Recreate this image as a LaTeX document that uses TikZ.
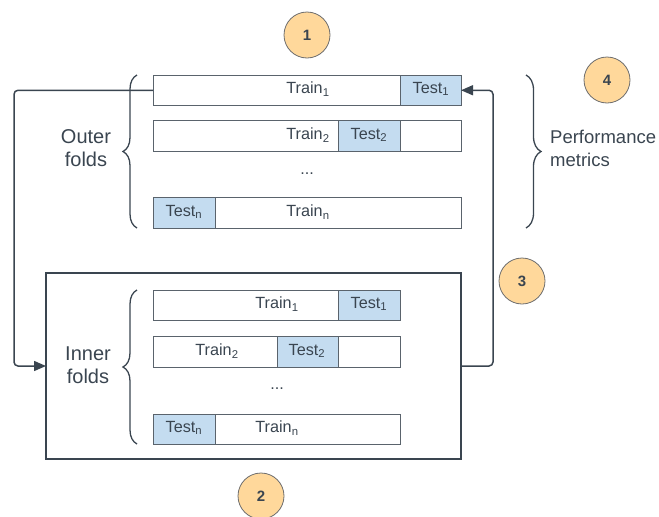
\documentclass[tikz,border=0pt]{standalone}
\usepackage{fontspec}
\setmainfont{Liberation Sans}
\usetikzlibrary{arrows.meta,decorations.pathreplacing}
\definecolor{ink}{HTML}{3A4550}
\definecolor{barline}{HTML}{5A636C}
\definecolor{testblue}{HTML}{C4DCF0}
\definecolor{badgefill}{HTML}{FFD89B}
\definecolor{badgeline}{HTML}{6E6E6E}
\begin{document}
\begin{tikzpicture}[x=1pt,y=-1pt,
  bar/.style={draw=barline, line width=0.8pt, fill=white, anchor=north west, inner sep=0pt, outer sep=0pt, minimum height=30.5pt},
  testcell/.style={bar, fill=testblue},
  lbl/.style={text=ink, font=\fontsize{16.2}{18}\selectfont, inner sep=0pt},
  foldlbl/.style={text=ink, font=\fontsize{20}{23.5}\selectfont, align=center, inner sep=0pt},
  badge/.style={circle, draw=badgeline, line width=0.8pt, fill=badgefill, minimum size=46pt, inner sep=0pt, text=ink, font=\fontsize{15}{18}\selectfont\bfseries},
  conn/.style={draw=ink, line width=1.5pt, rounded corners=4pt},
  arr/.style={-{Triangle[length=12pt,width=10pt]}},
  brace/.style={draw=ink, line width=1.3pt, decorate, decoration={brace, amplitude=#1}},
  box/.style={draw=ink, line width=2.4pt, anchor=north west, inner sep=0pt, outer sep=0pt}
]
\useasboundingbox (0,0) rectangle (659,517);

% outer folds
\node[bar, minimum width=308pt] (o1) at (153,75) {};
\node[testcell, minimum width=61pt] (ot1) at (400,75) {};
\node[lbl] (o1tr) at (308,89) {Train\textsubscript{1}};
\node[lbl] (o1te) at (431,89) {Test\textsubscript{1}};

\node[bar, minimum width=308pt] (o2) at (153,120.5) {};
\node[testcell, minimum width=62pt] (ot2) at (338,120.5) {};
\node[lbl] (o2tr) at (308,135) {Train\textsubscript{2}};
\node[lbl] (o2te) at (369,135) {Test\textsubscript{2}};

\node[lbl] (odots) at (307,174) {...};

\node[bar, minimum width=308pt] (on) at (153,197.5) {};
\node[testcell, minimum width=62pt] (otn) at (153,197.5) {};
\node[lbl] (ontr) at (308,212) {Train\textsubscript{n}};
\node[lbl] (onte) at (184,212) {Test\textsubscript{n}};

\draw[brace=14pt] (137,228) -- (137,75);
\node[foldlbl] (outer) at (86,148) {Outer\\folds};

\draw[brace=15pt] (526,75) -- (526,228);
\node[foldlbl, align=left, anchor=west, font=\fontsize{18.5}{23}\selectfont] (perf) at (550,148) {Performance\\metrics};

% inner box
\node[box, minimum width=415pt, minimum height=186pt] (inner) at (46,273) {};

\node[bar, minimum width=247pt] (i1) at (153,290) {};
\node[testcell, minimum width=62pt] (it1) at (338,290) {};
\node[lbl] (i1tr) at (277,304) {Train\textsubscript{1}};
\node[lbl] (i1te) at (369,304) {Test\textsubscript{1}};

\node[bar, minimum width=247pt] (i2) at (153,336.5) {};
\node[testcell, minimum width=61pt] (it2) at (277,336.5) {};
\node[lbl] (i2tr) at (217,351) {Train\textsubscript{2}};
\node[lbl] (i2te) at (307,351) {Test\textsubscript{2}};

\node[lbl] (idots) at (277,389) {...};

\node[bar, minimum width=247pt] (in) at (153,414) {};
\node[testcell, minimum width=62pt] (itn) at (153,414) {};
\node[lbl] (intr) at (277,428) {Train\textsubscript{n}};
\node[lbl] (inte) at (184,428) {Test\textsubscript{n}};

\draw[brace=14pt] (137,444) -- (137,290);
\node[foldlbl] (innerlbl) at (88,365) {Inner\\folds};

% connectors
\draw[conn, arr] (o1.west) -- ++(-139,0) |- (inner.west);
\draw[conn, arr] (inner.east) -- ++(32,0) |- (ot1.east);

% badges
\node[badge] (b1) at (307,35) {1};
\node[badge] (b2) at (261,496) {2};
\node[badge] (b3) at (522,281) {3};
\node[badge] (b4) at (607,80) {4};
\end{tikzpicture}
\end{document}
